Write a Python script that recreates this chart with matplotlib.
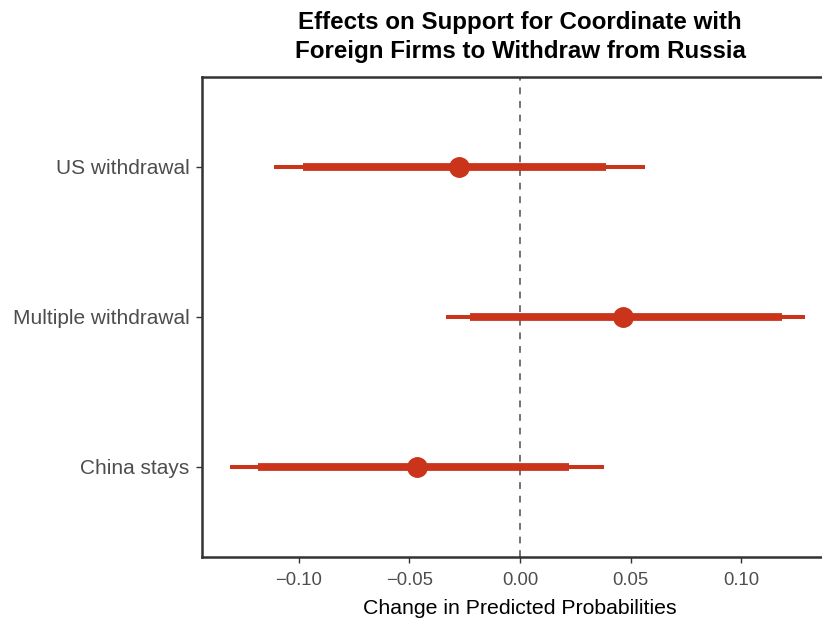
import matplotlib.pyplot as plt

# dati
categorie = ['China stays', 'Multiple withdrawal', 'US withdrawal']
stima = [-0.0464, 0.0464, -0.0274]
ci95_low = [-0.1310, -0.0334, -0.1111]
ci95_high = [0.0379, 0.1287, 0.0563]
ci90_low = [-0.1183, -0.0226, -0.0980]
ci90_high = [0.0221, 0.1183, 0.0387]
xticks = [-0.10, -0.05, 0.00, 0.05, 0.10]
xtick_labels = ['\u22120.10', '\u22120.05', '0.00', '0.05', '0.10']

rosso = '#C9341A'
plt.rcParams['font.family'] = ['Liberation Sans', 'DejaVu Sans']

fig = plt.figure(figsize=(8.22, 6.24), dpi=100)
W, H = 822, 624
ax = fig.add_axes([202 / W, 1 - 557 / H, (838 - 202) / W, (557 - 77) / H])

y = list(range(1, len(categorie) + 1))
ax.axvline(0, color='#737373', linestyle=(0, (3.5, 3.5)), linewidth=1.4, zorder=1)
ax.hlines(y, ci95_low, ci95_high, color=rosso, linewidth=2.9, zorder=2)
ax.hlines(y, ci90_low, ci90_high, color=rosso, linewidth=5.6, zorder=3)
ax.plot(stima, y, 'o', color=rosso, markersize=14, zorder=4)

ax.set_xlim(-0.1436, 0.1436)
ax.set_ylim(0.4, 3.6)
ax.set_yticks(y)
ax.set_yticklabels(categorie)
ax.set_xticks(xticks)
ax.set_xticklabels(xtick_labels)

for s in ['left', 'bottom', 'top', 'right']:
    ax.spines[s].set_color('#333333')
    ax.spines[s].set_linewidth(1.8)
ax.tick_params(axis='y', labelsize=15, colors='#333333', labelcolor='#4D4D4D', length=4, width=1, pad=5)
ax.tick_params(axis='x', labelsize=13.3, colors='#333333', labelcolor='#4D4D4D', length=4, width=1, pad=7)

ax.set_xlabel('Change in Predicted Probabilities', fontsize=15.3, labelpad=7)
ax.set_title('Effects on Support for Coordinate with\nForeign Firms to Withdraw from Russia',
             fontsize=17.4, fontweight='bold', pad=14, linespacing=1.3)

fig.savefig('out.png', dpi=100)
